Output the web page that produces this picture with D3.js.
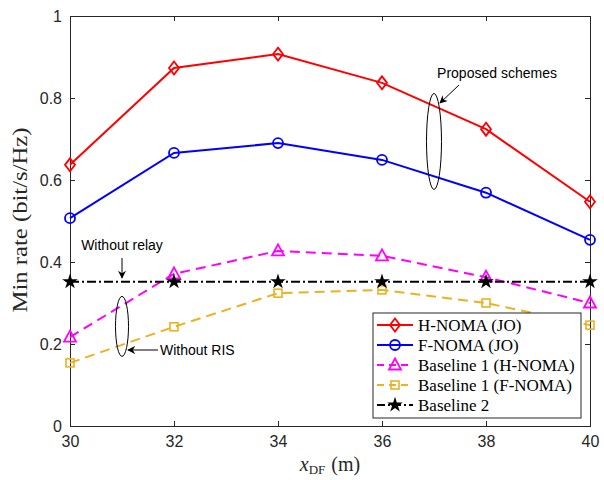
<!DOCTYPE html>
<html>
<head>
<meta charset="utf-8">
<script src="https://cdn.jsdelivr.net/npm/d3@7"></script>
<style>
  html, body { margin: 0; padding: 0; background: #fff; }
  svg { display: block; }
</style>
</head>
<body>
<svg id="chart" width="604" height="480"></svg>
<script>
// Relay position x_DF (m)
const positions = [30, 32, 34, 36, 38, 40];
const xTicks = [30, 32, 34, 36, 38, 40];
const yTicks = [0, 0.2, 0.4, 0.6, 0.8, 1];

// Minimum rate (bit/s/Hz) for each scheme
const hNomaJO = [0.637, 0.873, 0.907, 0.837, 0.724, 0.547];
const fNomaJO = [0.507, 0.666, 0.690, 0.649, 0.569, 0.454];
const baseline1H = [0.217, 0.371, 0.427, 0.415, 0.363, 0.300];
const baseline1F = [0.154, 0.242, 0.324, 0.332, 0.300, 0.246];
const baseline2 = [0.352, 0.352, 0.352, 0.352, 0.352, 0.352];

const seriesNames = ["H-NOMA (JO)", "F-NOMA (JO)", "Baseline 1 (H-NOMA)", "Baseline 1 (F-NOMA)", "Baseline 2"];

const series = [
  { name: seriesNames[0], values: hNomaJO, color: "#ff0000", dash: null, marker: "diamond" },
  { name: seriesNames[1], values: fNomaJO, color: "#0000ff", dash: null, marker: "circle" },
  { name: seriesNames[2], values: baseline1H, color: "#ff00ff", dash: "10,6", marker: "triangle" },
  { name: seriesNames[3], values: baseline1F, color: "#edb120", dash: "10,6", marker: "square" },
  { name: seriesNames[4], values: baseline2, color: "#000000", dash: "9,3,2,3", marker: "star" }
];

const svg = d3.select("#chart");
const plotLeft = 70, plotRight = 590, plotTop = 16, plotBottom = 426;

const x = d3.scaleLinear().domain([30, 40]).range([plotLeft, plotRight]);
const y = d3.scaleLinear().domain([0, 1]).range([plotBottom, plotTop]);

const axisColor = "#262626";
const tickFont = "'Liberation Sans', Arial, Helvetica, sans-serif";
const serifFont = "'Liberation Serif', 'Times New Roman', serif";

// Axes with inward ticks
const gx = svg.append("g").attr("transform", `translate(0,${plotBottom})`)
  .call(d3.axisBottom(x).tickValues(xTicks).tickSize(-5).tickPadding(10).tickFormat(d3.format("d")));
const gxTop = svg.append("g").attr("transform", `translate(0,${plotTop})`)
  .call(d3.axisTop(x).tickValues(xTicks).tickSize(-5).tickFormat(""));
const gy = svg.append("g").attr("transform", `translate(${plotLeft},0)`)
  .call(d3.axisLeft(y).tickValues(yTicks).tickSize(-5).tickPadding(8).tickFormat(d => d === 0 || d === 1 ? d3.format("d")(d) : d3.format(".1f")(d)));
const gyRight = svg.append("g").attr("transform", `translate(${plotRight},0)`)
  .call(d3.axisRight(y).tickValues(yTicks).tickSize(-5).tickFormat(""));

[gx, gxTop, gy, gyRight].forEach(g => {
  g.select(".domain").attr("stroke", axisColor).attr("stroke-width", 1);
  g.selectAll(".tick line").attr("stroke", axisColor);
  g.selectAll(".tick text").attr("fill", axisColor).style("font-family", tickFont).style("font-size", "16px");
});

// Axis labels
svg.append("text")
  .attr("transform", `translate(27,${(plotTop + plotBottom) / 2 - 1}) rotate(-90)`)
  .attr("text-anchor", "middle")
  .attr("textLength", 185).attr("lengthAdjust", "spacingAndGlyphs")
  .style("font-family", serifFont).style("font-size", "20px").attr("fill", "#262626")
  .text("Min rate (bit/s/Hz)");

const xl = svg.append("text")
  .attr("x", 330).attr("y", 471)
  .attr("text-anchor", "middle")
  .style("font-family", serifFont).style("font-size", "20px").attr("fill", "#262626");
xl.append("tspan").style("font-style", "italic").text("x");
xl.append("tspan").attr("dy", 3).style("font-size", "13px").text("DF");
xl.append("tspan").attr("dy", -3).attr("dx", 6).text("(m)");

// Marker drawing
function drawMarker(g, type, cx, cy, color) {
  if (type === "diamond") {
    g.append("path").attr("d", `M${cx},${cy - 6.5}L${cx + 5},${cy}L${cx},${cy + 6.5}L${cx - 5},${cy}Z`)
      .attr("fill", "none").attr("stroke", color).attr("stroke-width", 1.8);
  } else if (type === "circle") {
    g.append("circle").attr("cx", cx).attr("cy", cy).attr("r", 5)
      .attr("fill", "none").attr("stroke", color).attr("stroke-width", 1.8);
  } else if (type === "triangle") {
    g.append("path").attr("d", `M${cx},${cy - 6.5}L${cx + 6},${cy + 4.5}L${cx - 6},${cy + 4.5}Z`)
      .attr("fill", "none").attr("stroke", color).attr("stroke-width", 1.8);
  } else if (type === "square") {
    g.append("rect").attr("x", cx - 4).attr("y", cy - 4).attr("width", 8).attr("height", 8)
      .attr("fill", "none").attr("stroke", color).attr("stroke-width", 1.6);
  } else if (type === "star") {
    g.append("path").attr("d", d3.symbol().type(d3.symbolStar).size(75)())
      .attr("transform", `translate(${cx},${cy})`).attr("fill", color);
  }
}

const line = d3.line().x((d, i) => x(positions[i])).y(d => y(d));

series.forEach(s => {
  const g = svg.append("g");
  g.append("path").datum(s.values)
    .attr("d", line)
    .attr("fill", "none")
    .attr("stroke", s.color)
    .attr("stroke-width", 2)
    .attr("stroke-dasharray", s.dash);
  s.values.forEach((v, i) => drawMarker(g, s.marker, x(positions[i]), y(v), s.color));
});

// Annotations
const annoFont = "'Liberation Sans', Arial, Helvetica, sans-serif";
svg.append("defs").append("marker")
  .attr("id", "arrow").attr("viewBox", "0 0 10 10").attr("refX", 9).attr("refY", 5)
  .attr("markerWidth", 8).attr("markerHeight", 8).attr("orient", "auto-start-reverse")
  .attr("markerUnits", "userSpaceOnUse")
  .append("path").attr("d", "M0,0L10,5L0,10L3,5Z").attr("fill", "#000");

// Proposed schemes
svg.append("ellipse").attr("cx", x(37)).attr("cy", y(0.694)).attr("rx", 7.5).attr("ry", 48)
  .attr("fill", "none").attr("stroke", "#000").attr("stroke-width", 1);
svg.append("line").attr("x1", 459).attr("y1", 85).attr("x2", 440).attr("y2", 103)
  .attr("stroke", "#000").attr("stroke-width", 1).attr("marker-end", "url(#arrow)");
svg.append("text").attr("x", 497).attr("y", 78).attr("text-anchor", "middle")
  .style("font-family", annoFont).style("font-size", "14px").text("Proposed schemes");

// Without relay
svg.append("line").attr("x1", x(31)).attr("y1", 258).attr("x2", x(31)).attr("y2", 278)
  .attr("stroke", "#000").attr("stroke-width", 1).attr("marker-end", "url(#arrow)");
svg.append("text").attr("x", 122).attr("y", 250).attr("text-anchor", "middle")
  .style("font-family", annoFont).style("font-size", "14px").text("Without relay");

// Without RIS
svg.append("ellipse").attr("cx", x(31)).attr("cy", y(0.243)).attr("rx", 6.5).attr("ry", 30)
  .attr("fill", "none").attr("stroke", "#000").attr("stroke-width", 1);
svg.append("line").attr("x1", 158).attr("y1", 350).attr("x2", 128).attr("y2", 350)
  .attr("stroke", "#000").attr("stroke-width", 1).attr("marker-end", "url(#arrow)");
svg.append("text").attr("x", 160).attr("y", 355)
  .style("font-family", annoFont).style("font-size", "14px").text("Without RIS");

// Legend
const lg = svg.append("g");
lg.append("rect").attr("x", 373).attr("y", 313).attr("width", 208).attr("height", 105)
  .attr("fill", "#fff").attr("stroke", "#262626").attr("stroke-width", 1);
series.forEach((s, i) => {
  const cy = 325 + i * 20;
  lg.append("line").attr("x1", 377).attr("x2", 413).attr("y1", cy).attr("y2", cy)
    .attr("stroke", s.color).attr("stroke-width", 2)
    .attr("stroke-dasharray", s.dash ? (s.marker === "star" ? "8,3,2,3" : "7,5") : null);
  drawMarker(lg, s.marker, 395, cy, s.color);
  lg.append("text").attr("x", 418).attr("y", cy + 5.5)
    .style("font-family", serifFont).style("font-size", "17px").attr("fill", "#000")
    .text(s.name);
});
</script>
</body>
</html>
